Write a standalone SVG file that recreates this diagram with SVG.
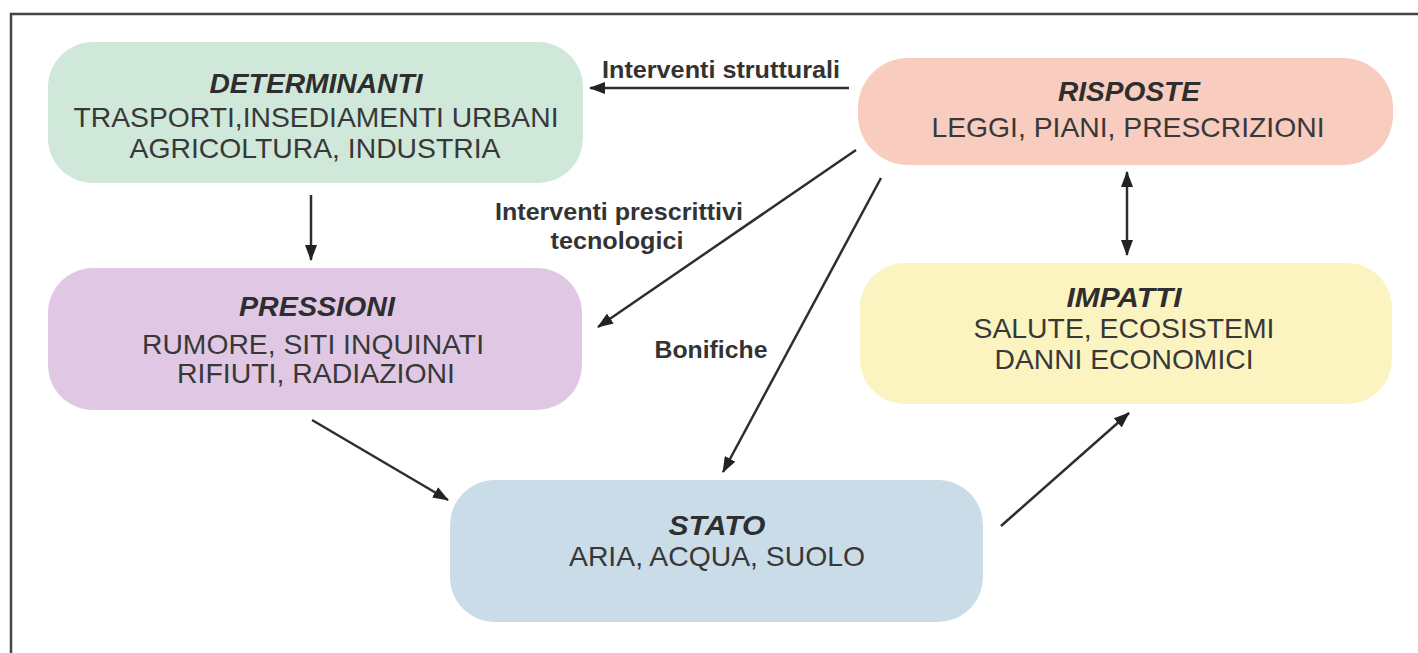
<svg xmlns="http://www.w3.org/2000/svg" width="1418" height="653" viewBox="0 0 1418 653">
<style>
  .box { stroke: none; }
  .t { font-family: "Liberation Sans", Arial, sans-serif; font-size: 28px; fill: #383838; text-anchor: middle; }
  .h { font-size: 27px; font-weight: bold; font-style: italic; fill: #2e2e2e; }
  .lbl { font-family: "Liberation Sans", Arial, sans-serif; font-size: 24px; font-weight: bold; fill: #333; text-anchor: middle; }
  .c { stroke: #2e2e2e; stroke-width: 2.5; fill: none; }
  .frame { stroke: #444; stroke-width: 2.5; fill: none; }
</style>
<defs>
  <marker id="ah" markerUnits="userSpaceOnUse" markerWidth="16" markerHeight="12" refX="15" refY="6" orient="auto-start-reverse">
    <path d="M0,0 L16,6 L0,12 z" fill="#222"/>
  </marker>
</defs>
<rect width="1418" height="653" fill="#fff"/>
<g id="frame">
  <path class="frame" d="M11,653 L11,14 L1418,14"/>
</g>
<g id="determinanti">
  <rect class="box" x="48" y="42" width="535" height="141" rx="45" fill="#cfe8da"/>
  <text class="t h" x="316" y="93" textLength="213" lengthAdjust="spacingAndGlyphs">DETERMINANTI</text>
  <text class="t" x="316" y="127" textLength="485" lengthAdjust="spacingAndGlyphs">TRASPORTI,INSEDIAMENTI URBANI</text>
  <text class="t" x="315" y="158" textLength="371" lengthAdjust="spacingAndGlyphs">AGRICOLTURA, INDUSTRIA</text>
</g>
<g id="risposte">
  <rect class="box" x="858" y="58" width="535" height="107" rx="50" fill="#f8cdbf"/>
  <text class="t h" x="1129" y="101" textLength="142" lengthAdjust="spacingAndGlyphs">RISPOSTE</text>
  <text class="t" x="1128" y="137" textLength="393" lengthAdjust="spacingAndGlyphs">LEGGI, PIANI, PRESCRIZIONI</text>
</g>
<g id="pressioni">
  <rect class="box" x="48" y="268" width="534" height="142" rx="45" fill="#e0c8e4"/>
  <text class="t h" x="317" y="316" textLength="156" lengthAdjust="spacingAndGlyphs">PRESSIONI</text>
  <text class="t" x="313" y="354" textLength="342" lengthAdjust="spacingAndGlyphs">RUMORE, SITI INQUINATI</text>
  <text class="t" x="316" y="383" textLength="278" lengthAdjust="spacingAndGlyphs">RIFIUTI, RADIAZIONI</text>
</g>
<g id="impatti">
  <rect class="box" x="860" y="263" width="532" height="141" rx="45" fill="#fbf4c0"/>
  <text class="t h" x="1124" y="307" textLength="115" lengthAdjust="spacingAndGlyphs">IMPATTI</text>
  <text class="t" x="1124" y="338" textLength="301" lengthAdjust="spacingAndGlyphs">SALUTE, ECOSISTEMI</text>
  <text class="t" x="1124" y="369" textLength="259" lengthAdjust="spacingAndGlyphs">DANNI ECONOMICI</text>
</g>
<g id="stato">
  <rect class="box" x="450" y="480" width="533" height="142" rx="45" fill="#cadce7"/>
  <text class="t h" x="717" y="535" textLength="97" lengthAdjust="spacingAndGlyphs">STATO</text>
  <text class="t" x="717" y="566" textLength="296" lengthAdjust="spacingAndGlyphs">ARIA, ACQUA, SUOLO</text>
</g>
<g id="connectors">
  <line class="c" x1="849" y1="88" x2="590" y2="88" marker-end="url(#ah)"/>
  <line class="c" x1="311" y1="195" x2="311" y2="260" marker-end="url(#ah)"/>
  <line class="c" x1="856" y1="150" x2="598" y2="327" marker-end="url(#ah)"/>
  <line class="c" x1="881" y1="178" x2="723" y2="472" marker-end="url(#ah)"/>
  <line class="c" x1="1127" y1="172" x2="1127" y2="255" marker-start="url(#ah)" marker-end="url(#ah)"/>
  <line class="c" x1="312" y1="420" x2="448" y2="500" marker-end="url(#ah)"/>
  <line class="c" x1="1001" y1="526" x2="1129" y2="413" marker-end="url(#ah)"/>
</g>
<g id="labels">
  <text class="lbl" x="721" y="78" textLength="238" lengthAdjust="spacingAndGlyphs">Interventi strutturali</text>
  <text class="lbl" x="619" y="220" textLength="248" lengthAdjust="spacingAndGlyphs">Interventi prescrittivi</text>
  <text class="lbl" x="617" y="249" textLength="133" lengthAdjust="spacingAndGlyphs">tecnologici</text>
  <text class="lbl" x="711" y="358" textLength="113" lengthAdjust="spacingAndGlyphs">Bonifiche</text>
</g>
</svg>
